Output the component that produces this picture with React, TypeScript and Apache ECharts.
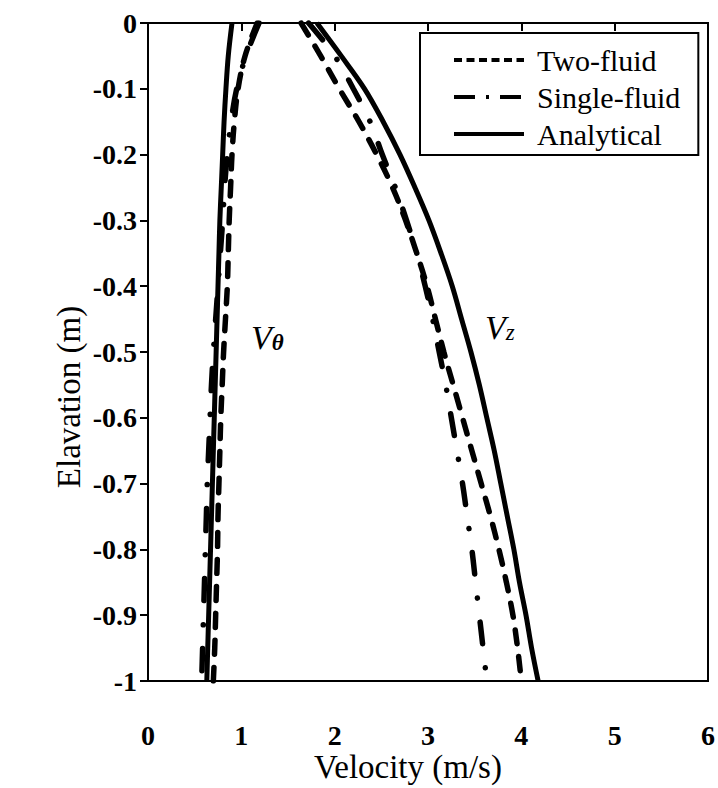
import React, { useEffect, useRef } from "react";
import * as echarts from "echarts";

// Elevation (m) at which velocities were read
const elevation = [
  0, -0.05, -0.1, -0.15, -0.2, -0.25, -0.3, -0.35, -0.4, -0.45, -0.5,
  -0.55, -0.6, -0.65, -0.7, -0.75, -0.8, -0.85, -0.9, -0.95, -1.0,
];

// Axial velocity V_z (m/s)
const vzTwoFluid = [
  1.64, 1.85, 2.05, 2.26, 2.45, 2.62, 2.76, 2.88, 2.99, 3.08, 3.17,
  3.27, 3.37, 3.47, 3.57, 3.67, 3.76, 3.84, 3.91, 3.96, 4.0,
];
const vzSingleFluid = [
  1.72, 2.0, 2.2, 2.38, 2.51, 2.65, 2.77, 2.88, 2.97, 3.05, 3.12,
  3.19, 3.25, 3.31, 3.37, 3.42, 3.47, 3.51, 3.55, 3.59, 3.63,
];
const vzAnalytical = [
  1.81, 2.07, 2.32, 2.52, 2.7, 2.86, 3.01, 3.14, 3.26, 3.36, 3.46,
  3.55, 3.63, 3.71, 3.78, 3.85, 3.92, 3.98, 4.05, 4.11, 4.18,
];

// Tangential velocity V_theta (m/s)
const vtTwoFluid = [
  1.17, 1.04, 0.965, 0.925, 0.9, 0.885, 0.87, 0.86, 0.85, 0.83, 0.81,
  0.795, 0.78, 0.77, 0.76, 0.75, 0.745, 0.735, 0.725, 0.715, 0.7,
];
const vtSingleFluid = [
  1.19, 1.05, 0.95, 0.89, 0.85, 0.82, 0.8, 0.775, 0.75, 0.725, 0.7,
  0.68, 0.665, 0.65, 0.635, 0.625, 0.615, 0.605, 0.595, 0.585, 0.575,
];
const vtAnalytical = [
  0.9, 0.86, 0.835, 0.815, 0.8, 0.785, 0.77, 0.76, 0.75, 0.74, 0.73,
  0.72, 0.71, 0.7, 0.69, 0.68, 0.67, 0.66, 0.65, 0.64, 0.63,
];

const legendNames = ["Two-fluid", "Single-fluid", "Analytical"];
const xAxisTitle = "Velocity (m/s)";
const yAxisTitle = "Elavation (m)";

const FONT = "Liberation Serif";

const pairs = (vel: number[]) => vel.map((v, i) => [v, elevation[i]]);

export default function App() {
  const ref = useRef<HTMLDivElement>(null);

  useEffect(() => {
    if (!ref.current) return;
    const chart = echarts.init(ref.current, undefined, { renderer: "svg" });

    const twoStyle = { color: "#000", width: 5.5, type: [14, 13] as number[], cap: "round" as const };
    const singleStyle = { color: "#000", width: 5.5, type: [22, 24, 0.1, 24] as number[], cap: "round" as const };
    const anaStyle = { color: "#000", width: 5, type: "solid" as const };

    const mk = (name: string, vel: number[], ls: any) => ({
      name,
      type: "line",
      data: pairs(vel),
      smooth: 0.35,
      symbol: "none",
      showSymbol: false,
      lineStyle: ls,
      itemStyle: { color: "#000" },
      z: name === "Analytical" ? 3 : 2,
    });

    const sub = (main: string, s: string, bold: boolean) => ({
      text: `{v|${main}}{s|${s}}`,
      rich: {
        v: { fontSize: 34, fontStyle: "italic", fontFamily: FONT, fill: "#000", verticalAlign: "top", lineHeight: 34 },
        s: {
          fontSize: 23,
          fontStyle: "italic",
          fontWeight: bold ? "bold" : "normal",
          fontFamily: FONT,
          fill: "#000",
          verticalAlign: "bottom",
          lineHeight: 23,
          padding: [19, 0, 0, 0],
        },
      },
    });

    chart.setOption({
      animation: false,
      backgroundColor: "#fff",
      grid: {
        left: 148,
        right: 8,
        top: 23,
        bottom: 99,
        show: true,
        borderColor: "#000",
        borderWidth: 2,
        backgroundColor: "transparent",
      },
      legend: {
        orient: "vertical",
        left: 420,
        top: 33,
        padding: [12, 18, 6, 32],
        itemWidth: 70,
        itemHeight: 14,
        itemGap: 7,
        borderColor: "#000",
        borderWidth: 2,
        backgroundColor: "#fff",
        selectedMode: false,
        itemStyle: { opacity: 0, borderWidth: 0 },
        textStyle: {
          fontFamily: FONT,
          fontSize: 30,
          color: "#000",
          lineHeight: 30,
          padding: [0, 0, 0, 8],
        },
        data: [
          { name: legendNames[0], itemStyle: { opacity: 0 }, lineStyle: { width: 4, type: [8, 4.5], cap: "butt", color: "#000" } },
          { name: legendNames[1], itemStyle: { opacity: 0 }, lineStyle: { width: 4, type: [21, 11, 3, 11], cap: "butt", color: "#000" } },
          { name: legendNames[2], itemStyle: { opacity: 0 }, lineStyle: { width: 4, type: "solid", color: "#000" } },
        ],
      },
      xAxis: {
        type: "value",
        min: 0,
        max: 6,
        interval: 1,
        name: xAxisTitle,
        nameLocation: "middle",
        nameGap: 69,
        nameMoveOverlap: false,
        nameTextStyle: { fontFamily: FONT, fontSize: 33, color: "#000", padding: [0, 40, 0, 0] },
        axisLine: { show: true, lineStyle: { color: "#000", width: 2 } },
        axisTick: { show: true, inside: false, length: 8, lineStyle: { color: "#000", width: 2 } },
        axisLabel: { fontFamily: FONT, fontSize: 28, fontWeight: "bold", color: "#000", margin: 40 },
        splitLine: { show: false },
      },
      yAxis: {
        type: "value",
        min: -1,
        max: 0,
        interval: 0.1,
        name: yAxisTitle,
        nameLocation: "middle",
        nameRotate: 90,
        nameGap: 63,
        nameMoveOverlap: false,
        nameTextStyle: { fontFamily: FONT, fontSize: 33, color: "#000", padding: [0, 90, 0, 0] },
        axisLine: { show: true, lineStyle: { color: "#000", width: 2 } },
        axisTick: { show: true, inside: false, length: 8, lineStyle: { color: "#000", width: 2 } },
        axisLabel: {
          fontFamily: FONT,
          fontSize: 28,
          fontWeight: "bold",
          color: "#000",
          margin: 11,
          formatter: (v: number) => String(Math.round(v * 10) / 10),
        },
        splitLine: { show: false },
      },
      graphic: [
        { type: "text", left: 251, top: 312, style: sub("V", "θ", true) },
        { type: "text", left: 485, top: 302, style: sub("V", "z", false) },
      ],
      series: [
        mk(legendNames[0], vzTwoFluid, twoStyle),
        mk(legendNames[1], vzSingleFluid, singleStyle),
        mk(legendNames[2], vzAnalytical, anaStyle),
        mk(legendNames[0], vtTwoFluid, twoStyle),
        mk(legendNames[1], vtSingleFluid, singleStyle),
        mk(legendNames[2], vtAnalytical, anaStyle),
      ],
    });

    return () => chart.dispose();
  }, []);

  return (
    <div
      ref={ref}
      style={{ position: "absolute", left: 0, top: 0, width: 718, height: 788, background: "#fff" }}
    />
  );
}
